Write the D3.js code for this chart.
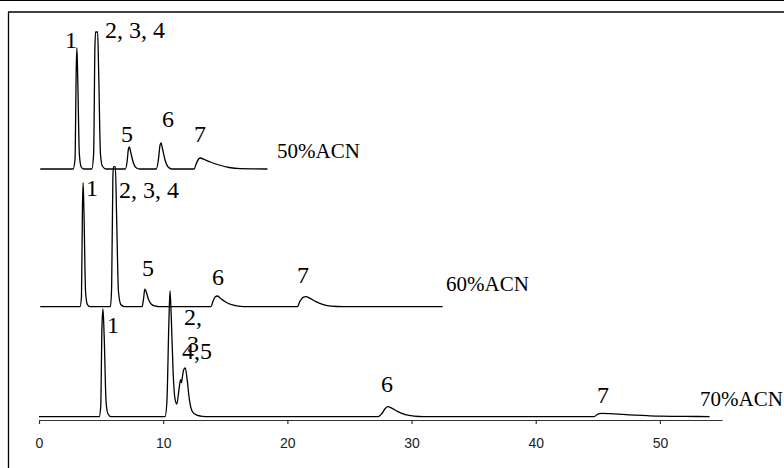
<!DOCTYPE html>
<html><head><meta charset="utf-8">
<script src="https://cdn.jsdelivr.net/npm/d3@7/dist/d3.min.js"></script>
<style>html,body{margin:0;padding:0;background:#fff;}svg{display:block;}</style>
</head><body>
<svg id="chart" width="784" height="468"></svg>
<script>
// Time axis (min)
const tickValues = [0, 10, 20, 30, 40, 50];
const seriesNames = ["50%ACN", "60%ACN", "70%ACN"];
// vertical offsets of each trace (arbitrary signal units)
const seriesOffsets = [251, 113.3, 3.3];

// [time, signal above baseline]
const acn50 = [[0.1,0],[2.75,0],[2.9,10],[3.0,100],[3.05,121],[3.12,90],[3.25,15],[3.4,2],[3.6,0],
  [4.25,0],[4.4,15],[4.5,120],[4.55,137],[4.72,137],[4.8,100],[4.95,15],[5.1,3],[5.4,0],
  [6.95,0],[7.1,8],[7.2,20],[7.27,22],[7.4,16],[7.6,6],[7.85,1],[8.1,0],
  [9.45,0],[9.6,8],[9.75,24],[9.82,26],[9.95,20],[10.15,9],[10.4,2],[10.7,0],
  [12.5,0],[12.65,5],[12.85,10],[13.0,11],[13.3,9.5],[13.8,7],[14.5,4],[15.3,1.5],[16.2,0.3],[18.4,0]];
const acn60 = [[0.1,0],[3.3,0],[3.42,10],[3.5,100],[3.55,124],[3.62,95],[3.75,15],[3.9,2],[4.1,0],
  [5.75,0],[5.85,20],[5.95,130],[6.0,140],[6.15,140],[6.25,90],[6.4,15],[6.6,2],[6.9,0],
  [8.3,0],[8.42,8],[8.52,17.5],[8.6,16],[8.8,8],[9.05,2.5],[9.4,0.5],[9.7,0],
  [13.85,0],[14.0,5],[14.2,10],[14.35,10.7],[14.6,8.5],[15.0,5],[15.5,2],[16.2,0.3],[16.8,0],
  [20.8,0],[21.0,5],[21.3,9.5],[21.5,10],[21.8,8.5],[22.3,5],[22.9,2],[23.5,0.5],[24.5,0],[32.5,0]];
const acn70 = [[0,0],[4.85,0],[4.97,10],[5.07,90],[5.15,107.7],[5.25,80],[5.4,15],[5.55,3],[5.8,0],
  [10.15,0],[10.3,15],[10.45,90],[10.55,126],[10.65,100],[10.8,45],[10.95,18],[11.1,12.7],[11.25,25],
  [11.4,37],[11.47,34],[11.55,40],[11.65,47],[11.78,48.7],[11.95,35],[12.1,18],[12.35,5],[12.7,1.5],[13.2,0.3],[13.6,0],
  [27.3,0],[27.6,3],[27.9,8.5],[28.1,10],[28.4,8.5],[28.9,5],[29.5,2],[30.2,0.5],[31,0],
  [44.7,0],[45.0,2.5],[45.3,3.3],[46,3],[47,2.3],[48,1.6],[49,1],[50,0.5],[51,0.3],[53,0.2],[54,0]];
const seriesData = [acn50, acn60, acn70];

// peak labels: [text, time, signal level (absolute), size]
const peakLabels = [
  ["1", 2.09, 372, 24], ["2, 3, 4", 5.31, 382, 24], ["5", 6.60, 278, 24], ["6", 9.90, 293, 24], ["7", 12.48, 278, 24],
  ["1", 3.78, 224, 24], ["2, 3, 4", 6.44, 222, 24], ["5", 8.29, 144, 24], ["6", 13.93, 135, 24], ["7", 20.78, 137, 24],
  ["1", 5.48, 87, 24], ["2,", 11.68, 95, 24], ["3", 11.92, 68, 24], ["4,5", 11.52, 61, 24], ["6", 27.54, 28, 24], ["7", 44.93, 17, 24]
];
// series name label positions: [time, signal level]
const nameLabelPos = [[19.17, 262], [32.78, 129], [53.23, 14]];

const svg = d3.select("#chart");
const x = d3.scaleLinear().domain([0, 55]).range([39, 722]);
const y = d3.scaleLinear().domain([0, 420]).range([420, 0]);

// frame
svg.append("line").attr("x1",0).attr("x2",784).attr("y1",0.5).attr("y2",0.5).attr("stroke","#000").attr("stroke-width",1.2);
svg.append("line").attr("x1",8).attr("x2",784).attr("y1",12).attr("y2",12).attr("stroke","#000").attr("stroke-width",1.6);
svg.append("line").attr("x1",8.5).attr("x2",8.5).attr("y1",12).attr("y2",468).attr("stroke","#000").attr("stroke-width",1.3);

// axis
const axis = d3.axisBottom(x).tickValues(tickValues).tickSize(4).tickPadding(14).tickSizeOuter(0);
const gA = svg.append("g").attr("transform","translate(0,420)").call(axis);
gA.select(".domain").attr("stroke","#333").attr("stroke-width",1.2);
gA.selectAll(".tick line").attr("stroke","#333").attr("stroke-width",1.2);
gA.selectAll(".tick text").attr("font-family","'Liberation Sans', Arial, sans-serif").attr("font-size",14).attr("fill","#222");

// traces
const line = d3.line().x(d => x(d[0])).y(d => y(d[1] + d[2])).curve(d3.curveMonotoneX);
seriesData.forEach((s, i) => {
  svg.append("path")
    .datum(s.map(p => [p[0], p[1], seriesOffsets[i]]))
    .attr("d", line).attr("fill","none").attr("stroke","#000").attr("stroke-width",1.3);
});

// labels
svg.selectAll("text.peak").data(peakLabels).enter().append("text")
  .attr("class","peak").attr("x", d => x(d[1])).attr("y", d => y(d[2]))
  .attr("font-family","'Liberation Serif', 'Times New Roman', serif").attr("font-size", d => d[3])
  .attr("fill","#000").text(d => d[0]);
svg.selectAll("text.name").data(seriesNames).enter().append("text")
  .attr("class","name").attr("x", (d,i) => x(nameLabelPos[i][0])).attr("y", (d,i) => y(nameLabelPos[i][1]))
  .attr("font-family","'Liberation Serif', 'Times New Roman', serif").attr("font-size", 21)
  .attr("fill","#000").text(d => d);
</script>
</body></html>
